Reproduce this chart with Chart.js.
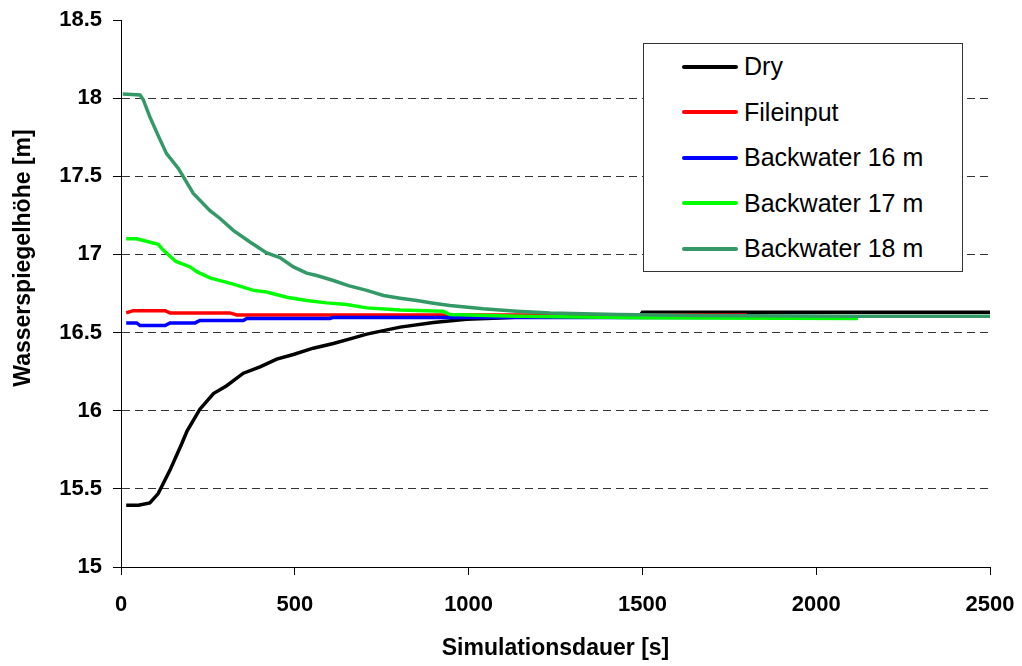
<!DOCTYPE html>
<html lang="de">
<head>
  <meta charset="UTF-8">
  <title>Wasserspiegelhöhe über Simulationsdauer</title>
  <script src="https://cdn.jsdelivr.net/npm/chart.js"></script>
  <style>
    body { margin: 0; background: #fff; }
    #wrap { position: relative; width: 1022px; height: 666px; font-family: "Liberation Sans", Arial, sans-serif; }
    #yTitle {
      position: absolute; left: -128px; top: 244px; width: 300px; height: 28px;
      line-height: 28px; text-align: center; font-weight: bold; font-size: 23px;
      transform: rotate(-90deg);
    }
    #legend {
      position: absolute; left: 643px; top: 43px; width: 318px; height: 227px;
      border: 1px solid #333; background: #fff;
    }
    .row { height: 45.5px; display: flex; align-items: center; font-size: 25px; }
    .row span.swatch { display: inline-block; width: 56px; height: 4px; margin-left: 38px; margin-right: 6px; border-radius: 2px; }
  </style>
</head>
<body>
  <div id="wrap">
    <canvas id="chart" width="1022" height="666"></canvas>
    <div id="yTitle">Wasserspiegelhöhe [m]</div>
    <div id="legend"></div>
  </div>

  <script>
    // series labels and colours
    const seriesNames = ['Dry', 'Fileinput', 'Backwater 16 m', 'Backwater 17 m', 'Backwater 18 m'];
    const seriesColors = ['#000000', '#ff0000', '#0000ff', '#00ff00', '#339966'];

    // time [s] / water level [m]
    const dryT = [15, 50, 83, 107, 141, 175, 190, 227, 266, 304, 352, 400, 448, 496, 553, 611, 659, 707, 803, 899, 994, 1090, 1150, 1300, 1490, 1500, 2500];
    const dryY = [15.395, 15.395, 15.41, 15.47, 15.62, 15.79, 15.87, 16.01, 16.11, 16.16, 16.24, 16.28, 16.33, 16.36, 16.40, 16.43, 16.46, 16.49, 16.535, 16.565, 16.585, 16.594, 16.60, 16.60, 16.60, 16.63, 16.63];

    const fileT = [15, 35, 127, 141, 313, 333, 940, 1800];
    const fileY = [16.626, 16.64, 16.64, 16.626, 16.626, 16.613, 16.613, 16.613];

    const bw16T = [15, 45, 55, 127, 141, 213, 227, 352, 362, 601, 611, 1824];
    const bw16Y = [16.562, 16.562, 16.545, 16.545, 16.562, 16.562, 16.577, 16.577, 16.59, 16.59, 16.597, 16.597];

    const bw17T = [15, 45, 107, 122, 158, 199, 218, 256, 323, 381, 419, 477, 534, 592, 649, 707, 803, 927, 946, 1138, 1500, 2120];
    const bw17Y = [17.10, 17.10, 17.064, 17.026, 16.955, 16.92, 16.89, 16.85, 16.81, 16.77, 16.76, 16.726, 16.705, 16.69, 16.68, 16.658, 16.645, 16.636, 16.615, 16.605, 16.595, 16.59];

    const bw18T = [5, 55, 64, 83, 107, 131, 165, 208, 256, 285, 323, 371, 419, 457, 496, 534, 563, 611, 654, 707, 755, 803, 851, 899, 946, 1042, 1138, 1234, 1426, 1666, 2120, 2500];
    const bw18Y = [18.026, 18.02, 17.99, 17.88, 17.76, 17.645, 17.55, 17.39, 17.28, 17.23, 17.154, 17.08, 17.01, 16.98, 16.92, 16.88, 16.865, 16.833, 16.80, 16.77, 16.737, 16.72, 16.705, 16.688, 16.673, 16.652, 16.637, 16.626, 16.615, 16.61, 16.605, 16.605];

    const seriesT = [dryT, fileT, bw16T, bw17T, bw18T];
    const seriesY = [dryY, fileY, bw16Y, bw17Y, bw18Y];

    const font = '"Liberation Sans", Arial, sans-serif';

    const datasets = seriesNames.map((name, i) => ({
      label: name,
      data: seriesT[i].map((t, k) => ({ x: t, y: seriesY[i][k] })),
      borderColor: seriesColors[i],
      borderWidth: 3.5,
      pointRadius: 0,
      tension: 0,
      fill: false,
      order: seriesNames.length - i   // later series on top, like the original
    }));

    new Chart(document.getElementById('chart').getContext('2d'), {
      type: 'line',
      data: { datasets: datasets },
      options: {
        responsive: false,
        animation: false,
        layout: { padding: { top: 20, right: 32, left: 0, bottom: 0 } },
        plugins: { legend: { display: false }, tooltip: { enabled: false } },
        scales: {
          x: {
            type: 'linear', min: 0, max: 2500,
            // fixed axis height, label overhang handled by layout padding
            afterFit: s => { s.height = 99; s.paddingLeft = 0; s.paddingRight = 0; },
            ticks: {
              stepSize: 500, padding: 17, color: '#000', maxRotation: 0,
              font: { family: font, size: 22, weight: 'bold' },
              callback: v => String(v)
            },
            grid: { drawOnChartArea: false, tickLength: 8, tickColor: '#000' },
            border: { color: '#000', width: 1 },
            title: {
              display: true, text: 'Simulationsdauer [s]', color: '#000',
              font: { family: font, size: 23, weight: 'bold' },
              padding: { top: 0, bottom: 4 }
            }
          },
          y: {
            min: 15, max: 18.5,
            afterFit: s => { s.width = 121; s.paddingTop = 0; s.paddingBottom = 0; },
            ticks: {
              stepSize: 0.5, padding: 11, color: '#000',
              font: { family: font, size: 22, weight: 'bold' },
              callback: v => String(v)
            },
            grid: {
              color: c => (c.tick && (c.tick.value === 18.5 || c.tick.value === 15)) ? 'rgba(0,0,0,0)' : '#333',
              lineWidth: 1, tickLength: 8, tickColor: '#000', tickBorderDash: []
            },
            border: { color: '#000', width: 1, dash: [8, 5] }
          }
        }
      }
    });

    // legend box
    const legend = document.getElementById('legend');
    seriesNames.forEach((name, i) => {
      const row = document.createElement('div');
      row.className = 'row';
      const sw = document.createElement('span');
      sw.className = 'swatch';
      sw.style.background = seriesColors[i];
      row.appendChild(sw);
      row.appendChild(document.createTextNode(name));
      legend.appendChild(row);
    });
  </script>
</body>
</html>
